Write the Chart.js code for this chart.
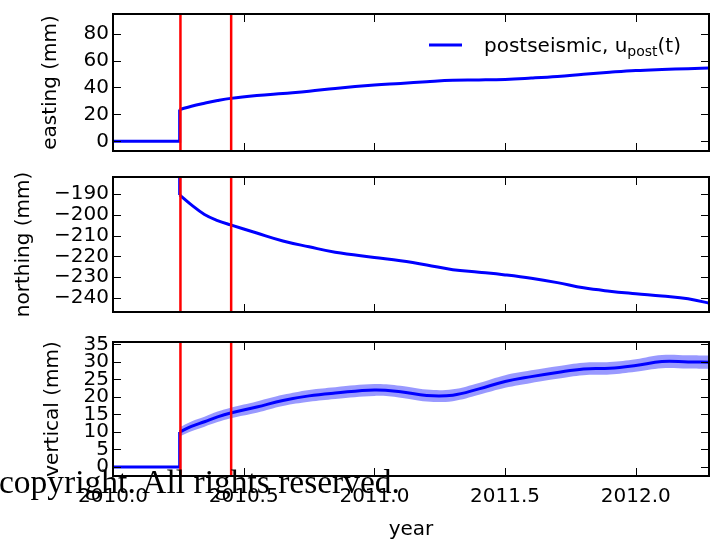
<!DOCTYPE html>
<html>
<head>
<meta charset="UTF-8">
<title>postseismic displacement</title>
<script src="https://cdn.jsdelivr.net/npm/chart.js"></script>
<style>
  body { margin: 0; background: #fff; }
  #wrap { position: relative; width: 710px; height: 542px; overflow: hidden; }
  canvas { position: absolute; left: 0; }
  #c1 { top: 0; }
  #c2 { top: 165px; }
  #c3 { top: 330px; }
  #note { position: absolute; left: -1px; top: 465px; font-family: "Liberation Serif", serif; font-size: 33.5px; line-height: 34px; color: #000; white-space: nowrap; }
</style>
</head>
<body>
<div id="wrap">
  <canvas id="c1" width="710" height="165"></canvas>
  <canvas id="c2" width="710" height="165"></canvas>
  <canvas id="c3" width="710" height="212"></canvas>
  <div id="note">copyright. All rights reserved.</div>
</div>
<script>
// data
const xTicks = [2010.0, 2010.5, 2011.0, 2011.5, 2012.0];
const xRange = [2010.0, 2012.28];
const eventYears = [2010.258, 2010.452];

const preYears = [2010.0, 2010.255];
const eastPre = [0, 0];
const northPre = [0, 0];
const vertPre = [0, 0];

const postYears = [2010.255, 2010.30, 2010.35, 2010.40, 2010.45, 2010.55, 2010.65, 2010.75, 2010.85,
                   2011.0, 2011.1, 2011.2, 2011.3, 2011.4, 2011.5, 2011.6, 2011.7, 2011.8, 2011.9,
                   2012.0, 2012.1, 2012.2, 2012.3];
const eastPost = [23.7, 26.1, 28.3, 30.3, 31.9, 34.0, 35.6, 37.2, 39.3,
                  41.8, 43.0, 44.3, 45.4, 45.6, 46.0, 47.0, 48.2, 49.8, 51.3,
                  52.6, 53.4, 54.0, 54.6];
const northPost = [-190.5, -195.3, -199.9, -202.8, -204.9, -208.8, -212.6, -215.4, -218.0,
                   -220.5, -222.1, -224.1, -226.4, -227.6, -228.9, -230.5, -232.6, -235.1, -236.7,
                   -237.9, -239.0, -240.3, -243.0];
const vertPost = [10.0, 11.6, 12.9, 14.3, 15.4, 17.1, 19.0, 20.3, 21.1,
                  22.0, 21.5, 20.4, 20.5, 22.3, 24.4, 25.8, 27.0, 28.0, 28.2,
                  29.0, 30.1, 30.0, 29.9];
const vertSigma = [1.3, 1.4, 1.4, 1.5, 1.5, 1.6, 1.6, 1.7, 1.7,
                   1.7, 1.7, 1.7, 1.7, 1.7, 1.8, 1.8, 1.8, 1.8, 1.8,
                   1.8, 1.9, 1.9, 1.9];

const eastTicks = [0, 20, 40, 60, 80];
const northTicks = [-240, -230, -220, -210, -200, -190];
const vertTicks = [0, 5, 10, 15, 20, 25, 30, 35];
const eastRange = [-7.2, 94.6];
const northRange = [-246.7, -181.9];
const vertRange = [-2.6, 35.7];

Chart.defaults.font.family = '"DejaVu Sans", sans-serif';
Chart.defaults.font.size = 20;
Chart.defaults.color = '#000';
Chart.defaults.animation = false;

function pts(xs, ys) {
    return xs.map((x, i) => ({ x: x, y: ys[i] }));
}

function fmtY(v) {
    return v < 0 ? '\u2212' + Math.abs(v) : String(v);
}

// matplotlib style frame with inward ticks on all sides
const frameTicks = {
    id: 'frameTicks',
    afterDatasetsDraw(chart) {
        const { ctx, chartArea: a, scales: { x, y } } = chart;
        ctx.save();
        ctx.strokeStyle = '#000';
        ctx.lineWidth = 1;
        ctx.beginPath();
        xTicks.forEach(v => {
            const px = Math.round(x.getPixelForValue(v)) + 0.5;
            ctx.moveTo(px, a.top); ctx.lineTo(px, a.top + 8);
            ctx.moveTo(px, a.bottom); ctx.lineTo(px, a.bottom - 8);
        });
        y.ticks.forEach(t => {
            const py = Math.round(y.getPixelForValue(t.value)) + 0.5;
            ctx.moveTo(a.left, py); ctx.lineTo(a.left + 8, py);
            ctx.moveTo(a.right, py); ctx.lineTo(a.right - 8, py);
        });
        ctx.stroke();
        ctx.lineWidth = 2;
        ctx.strokeRect(a.left, a.top, a.right - a.left, a.bottom - a.top);
        ctx.restore();
    }
};

// legend with subscript
const legendPost = {
    id: 'legendPost',
    afterDraw(chart, args, opts) {
        if (!opts.show) return;
        const { ctx, chartArea: a } = chart;
        const y0 = a.top + 31;
        ctx.save();
        ctx.strokeStyle = '#0000ff';
        ctx.lineWidth = 3;
        ctx.beginPath();
        ctx.moveTo(a.right - 280, y0);
        ctx.lineTo(a.right - 247, y0);
        ctx.stroke();
        ctx.fillStyle = '#000';
        ctx.textBaseline = 'alphabetic';
        let x = a.right - 225;
        const base = y0 + 7;
        ctx.font = '20px "DejaVu Sans"';
        ctx.fillText('postseismic, u', x, base);
        x += ctx.measureText('postseismic, u').width;
        ctx.font = '14px "DejaVu Sans"';
        ctx.fillText('post', x, base + 4);
        x += ctx.measureText('post').width;
        ctx.font = '20px "DejaVu Sans"';
        ctx.fillText('(t)', x, base);
        ctx.restore();
    }
};

function panel(id, o) {
    const datasets = [];
    eventYears.forEach(e => {
        datasets.push({
            data: [{ x: e, y: o.range[0] }, { x: e, y: o.range[1] }],
            borderColor: '#ff0000', borderWidth: 2.5, pointRadius: 0
        });
    });
    datasets.push({
        data: pts(postYears, o.post),
        borderColor: '#0000ff', borderWidth: 3, pointRadius: 0, tension: 0.4
    });
    datasets.push({
        data: pts(preYears.concat([postYears[0]]), o.pre.concat([o.post[0]])),
        borderColor: '#0000ff', borderWidth: 3, pointRadius: 0, tension: 0
    });
    if (o.sigma) {
        datasets.push({
            data: pts(postYears, o.post.map((v, i) => v + o.sigma[i])),
            borderWidth: 0, pointRadius: 0, tension: 0.4, fill: false
        });
        datasets.push({
            data: pts(postYears, o.post.map((v, i) => v - o.sigma[i])),
            borderWidth: 0, pointRadius: 0, tension: 0.4,
            fill: '-1', backgroundColor: 'rgba(0,0,255,0.4)'
        });
    }

    new Chart(document.getElementById(id), {
        type: 'line',
        data: { datasets: datasets },
        options: {
            responsive: false,
            layout: { padding: { left: 0, right: 1, top: o.padTop, bottom: 0 } },
            plugins: {
                legend: { display: false },
                tooltip: { enabled: false },
                legendPost: { show: !!o.legend }
            },
            scales: {
                x: {
                    type: 'linear', min: xRange[0], max: xRange[1],
                    afterBuildTicks: s => { s.ticks = xTicks.map(v => ({ value: v })); },
                    afterFit: s => { s.height = o.xHeight; s.paddingLeft = 0; s.paddingRight = 0; },
                    grid: { display: false, drawTicks: false },
                    border: { display: false },
                    ticks: { display: !!o.showX, autoSkip: false, maxRotation: 0, padding: 9,
                             callback: v => v.toFixed(1) },
                    title: { display: !!o.showX, text: 'year', padding: { top: 0, bottom: 0 } }
                },
                y: {
                    type: 'linear', min: o.range[0], max: o.range[1],
                    afterBuildTicks: s => { s.ticks = o.ticks.map(v => ({ value: v })); },
                    afterFit: s => { s.width = 113; s.paddingTop = 0; s.paddingBottom = 0; },
                    grid: { display: false, drawTicks: false },
                    border: { display: false },
                    ticks: { autoSkip: false, padding: 4, callback: v => fmtY(v) },
                    title: { display: true, text: o.label, padding: { top: o.titlePad, bottom: 0 } }
                }
            }
        },
        plugins: [frameTicks, legendPost]
    });
}

panel('c1', { pre: eastPre, post: eastPost, range: eastRange, ticks: eastTicks,
              label: 'easting (mm)', titlePad: 39, padTop: 14, xHeight: 14, legend: true });
panel('c2', { pre: northPre, post: northPost, range: northRange, ticks: northTicks,
              label: 'northing (mm)', titlePad: 12, padTop: 12, xHeight: 18 });
panel('c3', { pre: vertPre, post: vertPost, sigma: vertSigma, range: vertRange, ticks: vertTicks,
              label: 'vertical (mm)', titlePad: 41, padTop: 12, xHeight: 66, showX: true });
</script>
</body>
</html>
